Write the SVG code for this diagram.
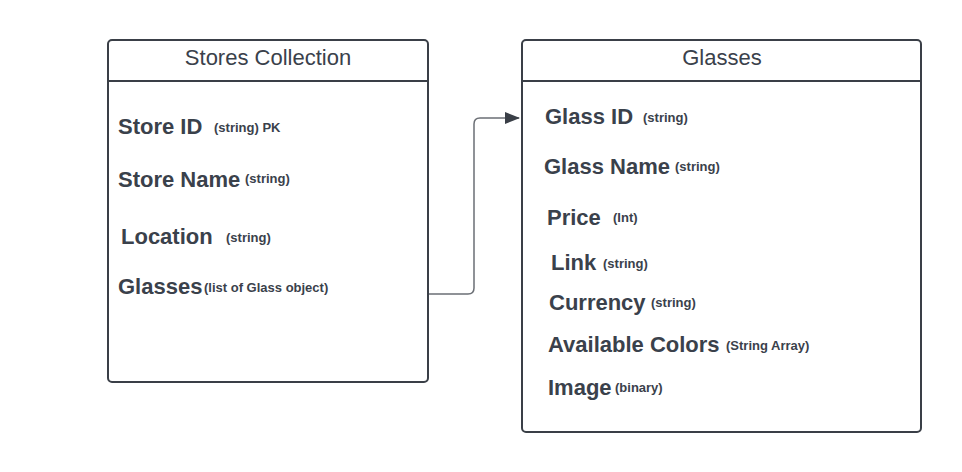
<svg xmlns="http://www.w3.org/2000/svg" width="962" height="472" viewBox="0 0 962 472">
<style>
.box{fill:#ffffff;stroke:#3a3f47;stroke-width:2}
.div{stroke:#3a3f47;stroke-width:2}
.title{font-family:"Liberation Sans",Arial,sans-serif;font-size:22px;fill:#3a414b;text-anchor:middle}
.f{font-family:"Liberation Sans",Arial,sans-serif;font-size:22px;font-weight:bold;fill:#3a414b}
.t{font-family:"Liberation Sans",Arial,sans-serif;font-size:13px;font-weight:bold;fill:#3a414b}
.conn{fill:none;stroke:#6b6f75;stroke-width:1.5}
</style>
<defs>
<marker id="arr" markerWidth="15" markerHeight="12" refX="14" refY="6" orient="auto" markerUnits="userSpaceOnUse">
<path d="M0,0 L15,6 L0,12 Z" fill="#3a3f47"/>
</marker>
</defs>
<rect width="962" height="472" fill="#ffffff"/>
<g id="connectors">
<path class="conn" d="M429,294 H468 Q474,294 474,288 V124 Q474,118 480,118 H519" marker-end="url(#arr)"/>
</g>
<g id="stores">
<rect class="box" x="108" y="40" width="320" height="342" rx="4"/>
<line class="div" x1="108" y1="81" x2="428" y2="81"/>
<text class="title" x="268" y="65">Stores Collection</text>
<text class="f" x="118" y="134">Store ID</text>
<text class="t" x="214" y="132">(string) PK</text>
<text class="f" x="118" y="187">Store Name</text>
<text class="t" x="245" y="183">(string)</text>
<text class="f" x="121" y="244">Location</text>
<text class="t" x="226" y="242">(string)</text>
<text class="f" x="118" y="294">Glasses</text>
<text class="t" x="204" y="292">(list of Glass object)</text>
</g>
<g id="glasses">
<rect class="box" x="522" y="40" width="399" height="392" rx="4"/>
<line class="div" x1="522" y1="81" x2="921" y2="81"/>
<text class="title" x="722" y="65">Glasses</text>
<text class="f" x="545" y="124">Glass ID</text>
<text class="t" x="643" y="122">(string)</text>
<text class="f" x="544" y="174">Glass Name</text>
<text class="t" x="675" y="171">(string)</text>
<text class="f" x="547" y="225">Price</text>
<text class="t" x="613" y="222">(Int)</text>
<text class="f" x="551" y="270">Link</text>
<text class="t" x="603" y="268">(string)</text>
<text class="f" x="549" y="310">Currency</text>
<text class="t" x="651" y="307">(string)</text>
<text class="f" x="548" y="352">Available Colors</text>
<text class="t" x="726" y="350">(String Array)</text>
<text class="f" x="548" y="395">Image</text>
<text class="t" x="615" y="392">(binary)</text>
</g>
</svg>
